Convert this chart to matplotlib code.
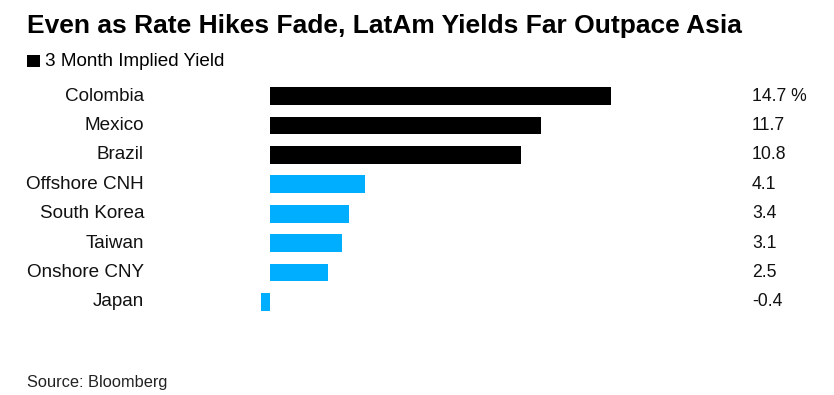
import matplotlib.pyplot as plt
from matplotlib.patches import Rectangle
import matplotlib.transforms as mtransforms

plt.rcParams['font.family'] = ['Liberation Sans', 'DejaVu Sans']

countries = ['Colombia', 'Mexico', 'Brazil', 'Offshore CNH', 'South Korea', 'Taiwan', 'Onshore CNY', 'Japan']
yields = [14.7, 11.7, 10.8, 4.1, 3.4, 3.1, 2.5, -0.4]
valueLabels = ['14.7 %', '11.7', '10.8', '4.1', '3.4', '3.1', '2.5', '-0.4']
latam = ['Colombia', 'Mexico', 'Brazil']

blackColor = '#000000'
blueColor = '#00AEFF'

W, H = 834, 395
fig = plt.figure(figsize=(W/100, H/100), dpi=100)

# axes placed in pixels: zero at x=270, 23.2 px per unit
x0, x1 = -0.5, 15.0
pxPerUnit = 23.2
left = 270 + pxPerUnit*x0
width = pxPerUnit*(x1 - x0)
top, bottom = 81.3, 316.7
ax = fig.add_axes([left/W, 1 - bottom/H, width/W, (bottom - top)/H])

colors = [blackColor if c in latam else blueColor for c in countries]
ypos = list(range(len(countries)))
ax.barh(ypos, yields, height=0.6, color=colors)
ax.set_xlim(x0, x1)
ax.set_ylim(len(countries) - 0.5, -0.5)
ax.axis('off')

trans = mtransforms.blended_transform_factory(fig.transFigure, ax.transData)
for i, name in enumerate(countries):
    ax.text(144/W, i, name, transform=trans, ha='right', va='center', fontsize=13.6, color='#111111')
    ax.text(752/W, i, valueLabels[i], transform=trans, ha='left', va='center', fontsize=12.7, color='#111111')

fig.text(27/W, 1 - 26/H, 'Even as Rate Hikes Fade, LatAm Yields Far Outpace Asia',
         fontsize=19, fontweight='bold', va='center', ha='left')
fig.patches.append(Rectangle((27/W, 1 - 67/H), 13/W, 12/H, transform=fig.transFigure,
                             facecolor=blackColor, edgecolor='none'))
fig.text(45/W, 1 - 61.5/H, '3 Month Implied Yield', fontsize=13.6, va='center', ha='left')
fig.text(27/W, 1 - 383/H, 'Source: Bloomberg', fontsize=11.8, va='center', ha='left', color='#222222')

fig.savefig('out.png', dpi=100, facecolor='white')
